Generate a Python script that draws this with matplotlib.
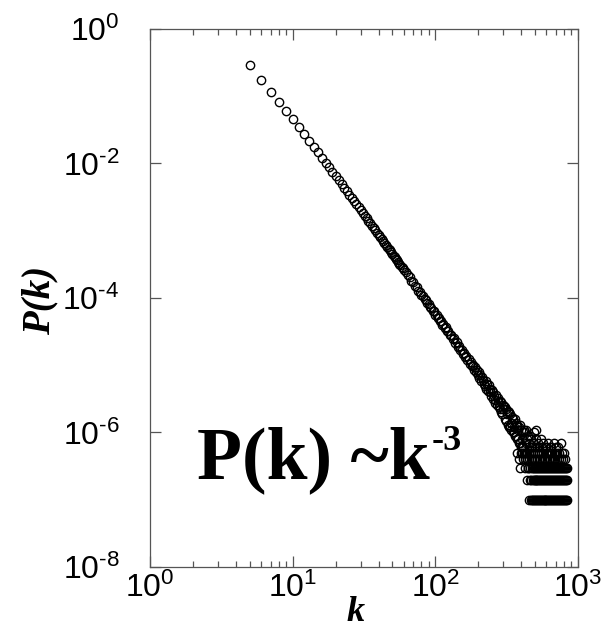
import matplotlib
matplotlib.use("Agg")
import matplotlib.pyplot as plt
import numpy as np
from matplotlib.ticker import FixedLocator, FuncFormatter, LogLocator, NullLocator

# degree distribution (open circles)
k_head = [5, 6, 7, 8, 9, 10, 11, 12, 13, 14, 15, 16, 17, 18, 19, 20, 21, 22, 23, 24,
          25, 26, 27, 28, 29, 30, 31, 32, 33, 34, 35, 36, 37, 38, 39, 40, 41, 42, 43, 44,
          45, 46, 47, 48, 49, 50, 51, 52, 53, 54, 55, 56, 57, 58, 59, 60]
p_head = [0.29, 0.175, 0.117, 0.0825, 0.0603, 0.0452, 0.0349, 0.0274, 0.0219, 0.0178,
          0.0147, 0.0122, 0.0103, 0.00876, 0.00751, 0.00648, 0.00565, 0.00494, 0.00435, 0.00384,
          0.00342, 0.00305, 0.00274, 0.00246, 0.00222, 0.00202, 0.00183, 0.00167, 0.00153, 0.00140,
          0.00129, 0.00118, 0.00109, 0.00101, 9.38e-4, 8.71e-4, 8.10e-4, 7.55e-4, 7.06e-4, 6.58e-4,
          6.17e-4, 5.79e-4, 5.42e-4, 5.11e-4, 4.79e-4, 4.53e-4, 4.26e-4, 4.04e-4, 3.80e-4, 3.62e-4,
          3.41e-4, 3.25e-4, 3.07e-4, 2.93e-4, 2.77e-4, 2.65e-4]

k_mid = [62, 64, 66, 68, 70, 72, 74, 76, 78, 80, 82, 84, 86, 88, 90, 92, 94, 96, 98, 100,
         102, 104, 106, 108, 110, 112, 114, 116, 118, 120]
p_mid = [2.42e-4, 2.17e-4, 2.02e-4, 1.81e-4, 1.70e-4, 1.52e-4, 1.44e-4, 1.29e-4, 1.24e-4, 1.11e-4,
         1.07e-4, 9.60e-5, 9.30e-5, 8.35e-5, 8.12e-5, 7.30e-5, 7.15e-5, 6.42e-5, 6.35e-5, 5.68e-5,
         5.63e-5, 5.04e-5, 5.04e-5, 4.50e-5, 4.52e-5, 4.03e-5, 4.08e-5, 3.62e-5, 3.68e-5, 3.27e-5]

k_tail = [123, 126, 129, 132, 135, 138, 141, 144, 147, 150, 153, 156, 159, 162, 165, 168, 171, 174,
          177, 180, 183, 186, 189, 192, 195, 198, 201, 204, 207, 210, 213, 216, 219, 222, 225, 228,
          231, 234, 237, 240, 243, 246, 249, 252, 255, 258, 261, 264, 267, 270, 273, 276, 279, 282,
          285, 288, 291, 294, 297, 300, 303, 306, 309, 312, 315, 318, 321, 324, 327, 330, 333, 336,
          339, 342, 345, 348, 351, 354, 357, 360, 363, 366, 369, 372, 375, 378, 381, 384, 387, 390,
          393, 396, 399, 402, 405, 408, 411, 414, 417, 420, 423, 426, 429, 432, 435, 438, 441, 444,
          447, 450]
p_tail = [3.20e-5, 2.81e-5, 2.85e-5, 2.48e-5, 2.51e-5, 2.12e-5, 2.18e-5, 1.89e-5, 1.94e-5, 1.68e-5,
          1.71e-5, 1.49e-5, 1.52e-5, 1.31e-5, 1.37e-5, 1.19e-5, 1.24e-5, 1.05e-5, 1.11e-5, 9.6e-6,
          1.02e-5, 8.5e-6, 9.3e-6, 7.8e-6, 8.6e-6, 7.1e-6, 7.9e-6, 6.4e-6, 7.2e-6, 5.8e-6,
          6.7e-6, 6.0e-6, 5.2e-6, 4.9e-6, 5.8e-6, 4.4e-6, 5.3e-6, 4.1e-6, 5.0e-6, 4.5e-6,
          4.0e-6, 3.5e-6, 4.3e-6, 3.1e-6, 4.0e-6, 3.5e-6, 3.0e-6, 2.7e-6, 3.6e-6, 2.6e-6,
          3.3e-6, 2.8e-6, 2.4e-6, 2.2e-6, 2.9e-6, 2.0e-6, 2.8e-6, 1.9e-6, 2.6e-6, 2.2e-6,
          2.5e-6, 1.6e-6, 2.4e-6, 1.5e-6, 2.2e-6, 1.9e-6, 2.1e-6, 1.3e-6, 2.0e-6, 1.2e-6,
          1.9e-6, 1.2e-6, 1.4e-6, 1.1e-6, 1.7e-6, 1.0e-6, 1.6e-6, 1.0e-6, 1.2e-6, 9e-7,
          1.6e-6, 9e-7, 1.4e-6, 8e-7, 1.3e-6, 8e-7, 1.1e-6, 7e-7, 1.2e-6, 7e-7,
          1.3e-6, 6e-7, 1.1e-6, 6e-7, 8e-7, 5e-7, 1.0e-6, 6e-7, 1.1e-6, 5e-7,
          1.0e-6, 4e-7, 7e-7, 5e-7, 1.1e-6, 4e-7, 8e-7, 3e-7, 9e-7, 5e-7]

# points above the quantised rows at the far end
k_high = [452, 459, 465, 471, 477, 484, 490, 497, 505, 511, 519, 526, 536, 547, 558,
          570, 584, 598, 615, 633, 652, 674, 697, 722, 757]
p_high = [7e-7, 9e-7, 6e-7, 8e-7, 6e-7, 7e-7, 1.0e-6, 6e-7, 8e-7, 1.1e-6, 6e-7, 7e-7, 6e-7,
          8e-7, 6e-7, 7e-7, 6e-7, 6e-7, 7e-7, 6e-7, 6e-7, 7e-7, 6e-7, 6e-7, 7e-7]

# quantised rows (1..5 nodes out of 10^7)
row_levels = [1e-7, 2e-7, 3e-7, 4e-7, 5e-7]
k_row1 = [455, 468, 479, 486, 493, 501, 508, 516, 523, 531, 540, 548, 556, 565, 574, 583, 592,
          601, 611, 620, 630, 640, 650, 660, 671, 682, 693, 704, 715, 727, 738, 750, 762, 774,
          787, 799, 812, 824, 836]
k_row2 = [441, 458, 472, 480, 488, 496, 504, 512, 520, 528, 537, 545, 554, 563, 572, 581, 590,
          599, 609, 618, 628, 638, 648, 658, 669, 680, 691, 702, 713, 725, 736, 748, 760, 772,
          785, 797, 810, 822, 834]
k_row3 = [392, 428, 447, 462, 474, 483, 491, 499, 507, 515, 524, 533, 542, 551, 560, 569, 578,
          588, 597, 607, 616, 626, 636, 646, 656, 667, 678, 689, 700, 711, 722, 734, 746, 758,
          770, 783, 795, 808, 820, 832]
k_row4 = [386, 410, 437, 452, 466, 478, 490, 503, 517, 530, 546, 559, 575, 590, 606, 622, 640,
          657, 676, 695, 716, 737, 760, 782, 805]
k_row5 = [371, 398, 419, 440, 457, 470, 485, 500, 515, 533, 552, 571, 593, 614, 637, 662, 688,
          714, 742, 771, 801]
k_rows = [k_row1, k_row2, k_row3, k_row4, k_row5]

plt.rcParams['font.family'] = 'Liberation Sans'
plt.rcParams['mathtext.fontset'] = 'custom'
plt.rcParams['mathtext.rm'] = 'Liberation Sans'
plt.rcParams['mathtext.it'] = 'Liberation Sans:italic'
plt.rcParams['mathtext.bf'] = 'Liberation Sans:bold'

fig = plt.figure(figsize=(6.1, 6.3), dpi=100)
ax = fig.add_axes([0.2459, 0.1, 0.7016, 0.854])

marker_kw = dict(marker='o', linestyle='none', markersize=6,
                 markerfacecolor='none', markeredgecolor='black', markeredgewidth=1.0)
ax.plot(k_head, p_head, **marker_kw)
ax.plot(k_mid, p_mid, **marker_kw)
ax.plot(k_tail, p_tail, **marker_kw)
ax.plot(k_high, p_high, **marker_kw)
for level, ks in zip(row_levels, k_rows):
    ax.plot(ks, [level] * len(ks), **marker_kw)

ax.set_xscale('log')
ax.set_yscale('log')
ax.set_xlim(1, 1000)
ax.set_ylim(1e-8, 1)


def power_label(v, pos):
    e = int(round(np.log10(v)))
    return r'$\mathdefault{10^{\text{%d}}}$' % e


ax.xaxis.set_major_locator(FixedLocator([1, 10, 100, 1000]))
ax.xaxis.set_minor_locator(LogLocator(base=10, subs=np.arange(2, 10)))
ax.yaxis.set_major_locator(FixedLocator([1e-8, 1e-6, 1e-4, 1e-2, 1]))
ax.yaxis.set_minor_locator(NullLocator())
ax.xaxis.set_major_formatter(FuncFormatter(power_label))
ax.yaxis.set_major_formatter(FuncFormatter(power_label))

spine_color = '#555555'
for s in ax.spines.values():
    s.set_color(spine_color)
    s.set_linewidth(0.9)
ax.tick_params(which='both', direction='in', top=True, right=True,
               color=spine_color, width=0.9, labelsize=23)
ax.tick_params(which='major', length=8)
ax.tick_params(which='minor', length=4)
ax.tick_params(axis='x', which='major', pad=4)
ax.tick_params(axis='y', which='major', pad=22)

ax.set_xlabel('k', va='bottom', family='Liberation Serif', weight='bold', style='italic', size=26)
ax.xaxis.set_label_coords(0.48, -0.116)
ax.set_ylabel('P(k)', va='center', family='Liberation Serif', weight='bold', style='italic', size=28)
ax.yaxis.set_label_coords(-0.256, 0.495)

t = ax.text(0.110, 0.1654, 'P(k) ~k', transform=ax.transAxes, ha='left', va='baseline',
            family='Liberation Serif', weight='bold', size=53)
ax.annotate('-3', xy=(1, 0), xycoords=t, xytext=(1, 32), textcoords='offset points',
            ha='left', va='baseline', family='Liberation Serif', weight='bold', size=26)

fig.savefig('out.png', dpi=100)
